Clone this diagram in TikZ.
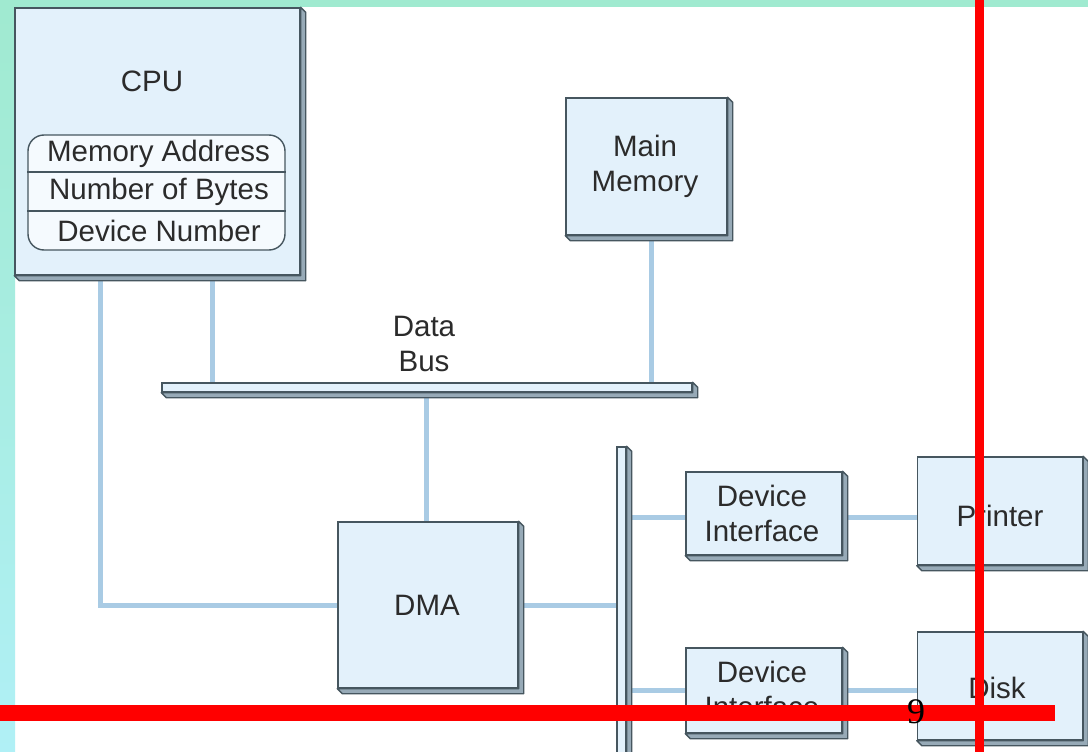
\documentclass[tikz,border=0pt]{standalone}
\usepackage{fontspec}
\setmainfont{Liberation Sans}
\newfontfamily\numfont{Liberation Serif}
\usetikzlibrary{calc}
\definecolor{mint}{HTML}{A0EAD0}
\definecolor{aqua}{HTML}{B0F0F6}
\definecolor{face}{HTML}{E3F1FB}
\definecolor{edge}{HTML}{46565F}
\definecolor{side}{HTML}{97AAB7}
\definecolor{wire}{HTML}{A9CBE4}
\definecolor{ink}{HTML}{2B2B2B}
\pgfdeclarelayer{back}
\pgfdeclarelayer{wires}
\pgfdeclarelayer{marks}
\pgfsetlayers{back,wires,main,marks}
\tikzset{
  unit/.style={draw=edge, line width=1.4pt, fill=face, inner sep=0pt},
  sidefill/.style={draw=edge, line width=1.4pt, fill=side, line join=round},
  wirepath/.style={draw=wire, line width=5pt},
  txt/.style={text=ink, align=center, inner sep=0pt,
    font=\fontsize{29.5}{35}\selectfont},
  divider/.style={draw=edge, line width=1.4pt},
}
\begin{document}
\begin{tikzpicture}[x=1pt,y=-1pt]
\useasboundingbox (0,0) rectangle (1088,752);

% page background with coloured frame strips
\begin{pgfonlayer}{back}
  \fill[white] (0,0) rectangle (1088,752);
  \shade[top color=mint, bottom color=aqua] (0,0) rectangle (15,752);
  \fill[mint] (0,0) rectangle (1088,7);
\end{pgfonlayer}

% units (front faces)
\node[unit, minimum width=285pt, minimum height=267pt] (cpu) at (157.5,141.5) {};
\node[unit, minimum width=161pt, minimum height=137pt] (mem) at (646.5,166.5) {};
\node[unit, minimum width=180pt, minimum height=166pt] (dma) at (428,605) {};
\node[unit, minimum width=156pt, minimum height=83pt] (di1) at (764,513.5) {};
\node[unit, minimum width=156pt, minimum height=85pt] (di2) at (764,690.5) {};
\node[unit, minimum width=165pt, minimum height=108pt] (prn) at (1000,511) {};
\node[unit, minimum width=165pt, minimum height=108pt] (dsk) at (1000,686) {};
\node[unit, minimum width=530pt, minimum height=9pt] (dbus) at (427,387.5) {};
\node[unit, minimum width=9pt, minimum height=312pt] (iobus) at (621.5,603) {};

% extruded right and bottom sides
\foreach \n in {cpu,mem,dma,di1,di2,prn,dsk,dbus,iobus}
  \filldraw[sidefill] (\n.north east) -- ++(5,5) -- ($(\n.south east)+(5,5)$)
    -- ($(\n.south west)+(5,5)$) -- (\n.south west) -- (\n.south east) -- cycle;

% register block inside the CPU
\node[draw=edge, line width=1.4pt, fill=white!65!face, rounded corners=16pt,
      minimum width=257pt, minimum height=115pt, inner sep=0pt] (regs) at (156.5,192.5) {};
\coordinate (r1) at (0,172);
\coordinate (r2) at (0,211);
\draw[divider] (regs.west |- r1) -- (regs.east |- r1);
\draw[divider] (regs.west |- r2) -- (regs.east |- r2);

% labels
\node[txt] (cpulbl) at (152,81) {CPU};
\node[txt] (ra) at (158.5,154) {Memory Address};
\node[txt] (rb) at (159,192) {Number of Bytes};
\node[txt] (rc) at (159,231) {Device Number};
\node[txt] (memlbl) at (645,166) {Main\\Memory};
\node[txt] (buslbl) at (424,344) {Data\\Bus};
\node[txt] (dmalbl) at (427,605) {DMA};
\node[txt] (di1lbl) at (762,513) {Device\\Interface};
\node[txt] (di2lbl) at (762,689) {Device\\Interface};
\node[txt] (prnlbl) at (1000,516) {Printer};
\node[txt] (dsklbl) at (997,688) {Disk};

% connections
\begin{pgfonlayer}{wires}
  \coordinate (xc) at (212,0);
  \coordinate (xm) at (651,0);
  \coordinate (xd) at (426,0);
  \coordinate (xl) at (100,0);
  \coordinate (y1) at (0,517);
  \draw[wirepath] (xc |- cpu.south) -- (xc |- dbus.north);
  \draw[wirepath] (xm |- mem.south) -- (xm |- dbus.north);
  \draw[wirepath] (xd |- dbus.south) -- (xd |- dma.north);
  \draw[wirepath] (xl |- cpu.south) |- (dma.west);
  \draw[wirepath] (dma.east) -- (dma.east -| iobus.west);
  \draw[wirepath] (iobus.east |- y1) -- (di1.west |- y1);
  \draw[wirepath] (di1.east |- y1) -- (prn.west |- y1);
  \draw[wirepath] (iobus.east |- di2.west) -- (di2.west);
  \draw[wirepath] (di2.east) -- (dsk.west |- di2.east);
\end{pgfonlayer}

% red marker lines and page number
\begin{pgfonlayer}{marks}
  \fill[red] (975,0) rectangle (984,752);
  \fill[red] (0,705) rectangle (1055,721);
  \node[text=black, inner sep=0pt, font=\numfont\fontsize{36}{40}\selectfont] (pg) at (916,712) {9};
\end{pgfonlayer}
\end{tikzpicture}
\end{document}
